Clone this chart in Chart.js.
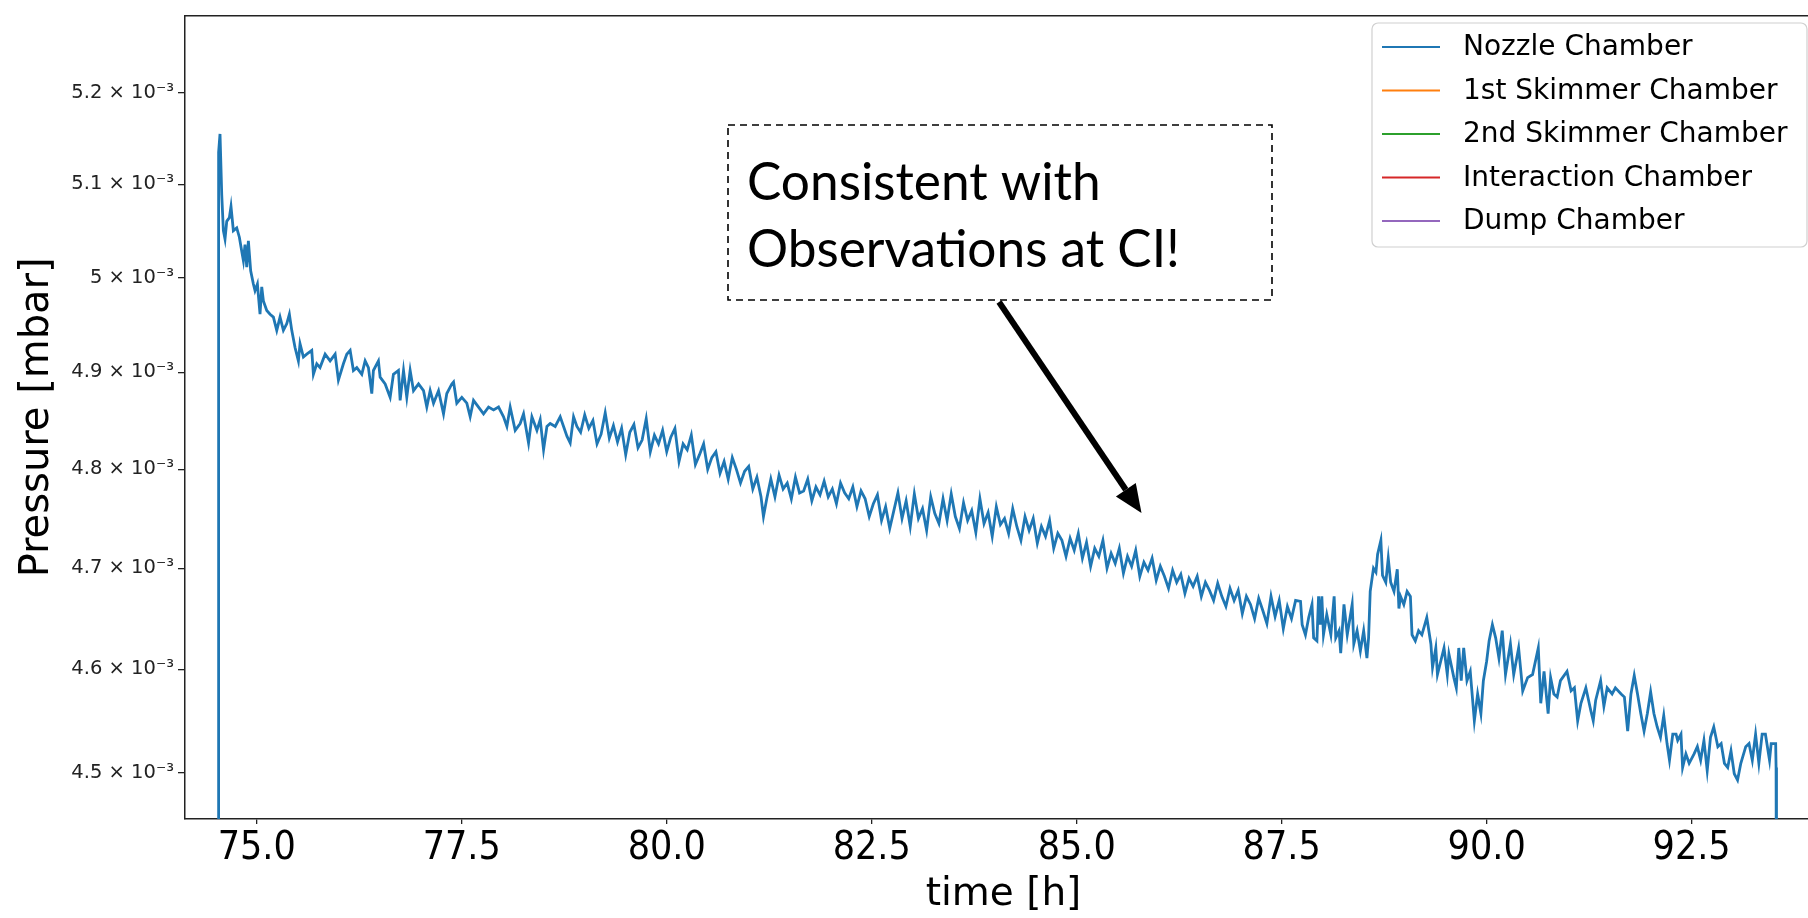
<!DOCTYPE html>
<html>
<head>
<meta charset="utf-8">
<script src="https://cdn.jsdelivr.net/npm/chart.js@4.4.1/dist/chart.umd.min.js"></script>
<style>
  html, body { margin: 0; padding: 0; background: #fff; overflow: hidden; width: 1808px; height: 918px; }
  #wrap { position: relative; width: 1822px; height: 918px; }
</style>
</head>
<body>
<div id="wrap"><canvas id="pressureChart"></canvas></div>
<script>
// time [h] and Nozzle Chamber pressure (in units of 1e-3 mbar)
const timeH = [
  74.53, 74.535, 74.552, 74.573, 74.593, 74.613, 74.634, 74.666, 74.686, 74.715,
  74.756, 74.788, 74.817, 74.837, 74.857, 74.878, 74.898, 74.926, 74.959, 74.979,
  75.008, 75.040, 75.061, 75.081, 75.122, 75.162, 75.203, 75.244, 75.284, 75.325,
  75.366, 75.398, 75.427, 75.467, 75.508, 75.528, 75.569, 75.610, 75.671, 75.691,
  75.732, 75.772, 75.834, 75.895, 75.956, 75.996, 76.057, 76.098, 76.139, 76.179,
  76.220, 76.281, 76.322, 76.362, 76.403, 76.423, 76.484, 76.505, 76.566, 76.627,
  76.667, 76.728, 76.749, 76.790, 76.830, 76.871, 76.912, 76.973, 77.034, 77.074,
  77.115, 77.156, 77.217, 77.278, 77.318, 77.379, 77.400, 77.440, 77.501, 77.562,
  77.603, 77.644, 77.705, 77.766, 77.827, 77.888, 77.949, 78.010, 78.051, 78.091,
  78.152, 78.213, 78.254, 78.315, 78.356, 78.417, 78.457, 78.498, 78.539, 78.579,
  78.640, 78.701, 78.742, 78.783, 78.823, 78.864, 78.905,
  78.95, 79.00, 79.05, 79.10, 79.15, 79.20, 79.25, 79.30, 79.35, 79.40,
  79.45, 79.50, 79.55, 79.60, 79.65, 79.70, 79.75, 79.80, 79.85, 79.90,
  79.95, 80.00, 80.05, 80.10, 80.15, 80.20, 80.25, 80.30, 80.35, 80.40,
  80.45, 80.50, 80.55, 80.60, 80.65, 80.70, 80.75, 80.80, 80.85, 80.90,
  80.95, 81.00, 81.05, 81.10, 81.15, 81.18, 81.22, 81.27, 81.32, 81.37,
  81.42, 81.47, 81.52, 81.57, 81.62, 81.67, 81.72, 81.77, 81.82, 81.87,
  81.92, 81.97, 82.02, 82.07, 82.12, 82.17, 82.22, 82.27, 82.32, 82.37,
  82.42, 82.47, 82.52, 82.57, 82.62, 82.67, 82.72, 82.77, 82.82, 82.87,
  82.92, 82.97, 83.02, 83.07, 83.12, 83.17, 83.22, 83.27, 83.32, 83.37,
  83.42, 83.47, 83.52, 83.57, 83.62, 83.67, 83.72, 83.77, 83.82, 83.87,
  83.92, 83.97, 84.02, 84.07, 84.12, 84.17, 84.22, 84.27, 84.32, 84.37,
  84.42, 84.47, 84.52, 84.57, 84.62, 84.67, 84.72, 84.77, 84.82, 84.87,
  84.92, 84.97, 85.02, 85.07, 85.12, 85.17, 85.22, 85.27, 85.32, 85.37,
  85.42, 85.47, 85.52, 85.57, 85.62, 85.67, 85.72, 85.77, 85.82, 85.87,
  85.92, 85.97, 86.02, 86.07, 86.12, 86.17, 86.22, 86.27, 86.32, 86.37,
  86.42, 86.47, 86.52, 86.57, 86.62, 86.67, 86.72, 86.77, 86.82, 86.87,
  86.92, 86.97, 87.02, 87.07, 87.12, 87.17, 87.22, 87.27, 87.32, 87.37,
  87.42, 87.47, 87.52, 87.57, 87.62, 87.67,
  87.73, 87.75, 87.79, 87.83, 87.87, 87.89, 87.93, 87.95, 87.97, 87.99,
  88.01, 88.05, 88.10, 88.14, 88.16, 88.20, 88.22, 88.26, 88.30, 88.36,
  88.38, 88.42, 88.46, 88.50, 88.54, 88.56, 88.58, 88.62, 88.65, 88.67,
  88.71, 88.73, 88.77, 88.80, 88.83, 88.87, 88.91, 88.93, 88.95, 88.99,
  89.03, 89.07, 89.09, 89.13, 89.17, 89.21, 89.27, 89.32, 89.34, 89.38,
  89.40, 89.44, 89.48, 89.52, 89.54, 89.60, 89.63, 89.66, 89.69, 89.72,
  89.76, 89.80, 89.85, 89.89, 89.93, 89.96, 90.00, 90.03, 90.07, 90.11,
  90.15, 90.19, 90.23, 90.27, 90.29, 90.33, 90.39, 90.44, 90.50, 90.56,
  90.63, 90.66, 90.70, 90.75, 90.78, 90.82, 90.86, 90.90, 90.98, 91.03,
  91.07, 91.11, 91.15, 91.21, 91.27, 91.30, 91.33, 91.39, 91.43, 91.47,
  91.53, 91.57, 91.64, 91.68, 91.72, 91.76, 91.80, 91.84, 91.88, 91.92,
  91.96, 92.00, 92.04, 92.08, 92.12, 92.16, 92.20, 92.23, 92.27, 92.31,
  92.33, 92.37, 92.39, 92.43, 92.47, 92.53, 92.57, 92.61, 92.65, 92.69,
  92.73, 92.77, 92.82, 92.86, 92.90, 92.94, 92.98, 93.02, 93.06, 93.10,
  93.16, 93.20, 93.24, 93.28, 93.32, 93.36, 93.40, 93.45, 93.47, 93.525,
  93.53, 93.535
];
const nozzlePressure = [
  4.300, 5.135, 5.155, 5.089, 5.050, 5.041, 5.060, 5.064, 5.076, 5.050,
  5.053, 5.043, 5.028, 5.018, 5.035, 5.011, 5.039, 5.007, 4.993, 4.986,
  4.993, 4.961, 4.990, 4.975, 4.965, 4.961, 4.958, 4.944, 4.958, 4.944,
  4.951, 4.961, 4.944, 4.926, 4.912, 4.930, 4.916, 4.919, 4.923, 4.898,
  4.909, 4.905, 4.919, 4.912, 4.919, 4.892, 4.909, 4.919, 4.923, 4.902,
  4.905, 4.898, 4.912, 4.905, 4.878, 4.902, 4.912, 4.895, 4.888, 4.874,
  4.898, 4.902, 4.871, 4.902, 4.874, 4.902, 4.881, 4.888, 4.881, 4.864,
  4.881, 4.868, 4.881, 4.857, 4.878, 4.888, 4.890, 4.868, 4.874, 4.868,
  4.854, 4.871, 4.864, 4.857, 4.864, 4.861, 4.864, 4.854, 4.844, 4.864,
  4.840, 4.847, 4.857, 4.827, 4.854, 4.840, 4.851, 4.820, 4.844, 4.847,
  4.844, 4.854, 4.844, 4.834, 4.827, 4.854, 4.844,
  4.838, 4.856, 4.842, 4.850, 4.826, 4.836, 4.858, 4.832, 4.845, 4.828,
  4.842, 4.815, 4.838, 4.846, 4.822, 4.830, 4.852, 4.818, 4.835, 4.826,
  4.840, 4.818, 4.833, 4.842, 4.808, 4.826, 4.820, 4.835, 4.805, 4.815,
  4.826, 4.800, 4.812, 4.818, 4.796, 4.808, 4.790, 4.812, 4.800, 4.786,
  4.798, 4.803, 4.780, 4.792, 4.772, 4.752, 4.770, 4.790, 4.772, 4.794,
  4.780, 4.786, 4.770, 4.792, 4.776, 4.778, 4.790, 4.768, 4.782, 4.774,
  4.788, 4.772, 4.780, 4.765, 4.786, 4.776, 4.770, 4.782, 4.762, 4.778,
  4.770, 4.752, 4.765, 4.774, 4.748, 4.762, 4.740, 4.758, 4.776, 4.750,
  4.768, 4.742, 4.775, 4.750, 4.760, 4.738, 4.772, 4.755, 4.745, 4.770,
  4.748, 4.775, 4.752, 4.740, 4.766, 4.748, 4.758, 4.736, 4.770, 4.745,
  4.756, 4.732, 4.762, 4.744, 4.750, 4.735, 4.760, 4.742, 4.728, 4.752,
  4.738, 4.750, 4.725, 4.742, 4.732, 4.748, 4.720, 4.735, 4.728, 4.712,
  4.730, 4.718, 4.735, 4.710, 4.726, 4.702, 4.720, 4.712, 4.728, 4.700,
  4.715, 4.705, 4.720, 4.695, 4.712, 4.702, 4.718, 4.692, 4.706, 4.698,
  4.710, 4.688, 4.702, 4.692, 4.680, 4.698, 4.686, 4.694, 4.675, 4.690,
  4.682, 4.692, 4.672, 4.686, 4.678, 4.668, 4.685, 4.672, 4.662, 4.680,
  4.668, 4.678, 4.655, 4.672, 4.664, 4.650, 4.670, 4.658, 4.645, 4.672,
  4.652, 4.668, 4.640, 4.662, 4.650, 4.668,
  4.667, 4.644, 4.634, 4.651, 4.664, 4.631, 4.628, 4.672, 4.644, 4.672,
  4.634, 4.654, 4.634, 4.672, 4.631, 4.638, 4.616, 4.664, 4.634, 4.664,
  4.625, 4.638, 4.618, 4.638, 4.611, 4.631, 4.677, 4.700, 4.696, 4.714,
  4.728, 4.693, 4.686, 4.710, 4.686, 4.677, 4.699, 4.660, 4.672, 4.664,
  4.677, 4.672, 4.634, 4.628, 4.638, 4.634, 4.651, 4.625, 4.602, 4.621,
  4.595, 4.608, 4.621, 4.595, 4.615, 4.592, 4.582, 4.621, 4.589, 4.621,
  4.589, 4.598, 4.550, 4.576, 4.557, 4.589, 4.608, 4.628, 4.644, 4.631,
  4.611, 4.638, 4.595, 4.615, 4.625, 4.595, 4.621, 4.579, 4.592, 4.595,
  4.621, 4.567, 4.598, 4.557, 4.592, 4.576, 4.573, 4.589, 4.598, 4.579,
  4.582, 4.550, 4.567, 4.582, 4.560, 4.550, 4.570, 4.589, 4.564, 4.582,
  4.576, 4.582, 4.576, 4.573, 4.540, 4.576, 4.594, 4.576, 4.557, 4.540,
  4.557, 4.578, 4.557, 4.544, 4.534, 4.555, 4.528, 4.512, 4.537, 4.537,
  4.531, 4.537, 4.505, 4.518, 4.509, 4.518, 4.525, 4.512, 4.531, 4.502,
  4.534, 4.544, 4.525, 4.528, 4.509, 4.505, 4.521, 4.499, 4.493, 4.509,
  4.525, 4.528, 4.512, 4.537, 4.509, 4.537, 4.537, 4.512, 4.528, 4.528,
  4.505, 4.300
];
// the other four chambers sit far below this window: nothing of them is visible
const skimmer1Pressure = [];
const skimmer2Pressure = [];
const interactionPressure = [];
const dumpPressure = [];

const seriesNames = ['Nozzle Chamber', '1st Skimmer Chamber', '2nd Skimmer Chamber', 'Interaction Chamber', 'Dump Chamber'];
const seriesColors = ['#1f77b4', '#ff7f0e', '#2ca02c', '#d62728', '#9467bd'];

const xTicks = [75, 77.5, 80, 82.5, 85, 87.5, 90, 92.5];
const xTickLabels = ['75.0', '77.5', '80.0', '82.5', '85.0', '87.5', '90.0', '92.5'];
const yTicks = [4.5, 4.6, 4.7, 4.8, 4.9, 5.0, 5.1, 5.2];
const yTickLabels = ['4.5 × 10⁻³', '4.6 × 10⁻³', '4.7 × 10⁻³', '4.8 × 10⁻³', '4.9 × 10⁻³', '5 × 10⁻³', '5.1 × 10⁻³', '5.2 × 10⁻³'];

const toPoints = (ts, ps) => ps.map((p, i) => ({ x: ts[i], y: p }));
const allSeries = [nozzlePressure, skimmer1Pressure, skimmer2Pressure, interactionPressure, dumpPressure];

// legend box + dashed call-out, drawn on top of the plot
const overlayPlugin = {
    id: 'overlay',
    afterDraw(chart) {
        const { ctx, chartArea: a } = chart;
        ctx.save();

        // top spine
        ctx.strokeStyle = '#222';
        ctx.lineWidth = 1.5;
        ctx.beginPath();
        ctx.moveTo(a.left, a.top);
        ctx.lineTo(a.right, a.top);
        ctx.stroke();

        // legend
        const lx = 1372, ly = 23, lw = 435, lh = 224;
        ctx.fillStyle = 'rgba(255,255,255,0.8)';
        ctx.strokeStyle = '#d0d0d0';
        ctx.lineWidth = 1.2;
        ctx.beginPath();
        ctx.roundRect(lx, ly, lw, lh, 6);
        ctx.fill();
        ctx.stroke();
        ctx.font = '28px "DejaVu Sans"';
        ctx.textBaseline = 'middle';
        chart.data.datasets.forEach((ds, i) => {
            const y = 47 + i * 43.5;
            ctx.strokeStyle = ds.borderColor;
            ctx.lineWidth = 2;
            ctx.beginPath();
            ctx.moveTo(1382, y);
            ctx.lineTo(1440, y);
            ctx.stroke();
            ctx.fillStyle = '#000';
            ctx.fillText(ds.label, 1463, y + 1);
        });

        // dashed call-out box
        ctx.setLineDash([7, 5]);
        ctx.strokeStyle = '#000';
        ctx.lineWidth = 1.6;
        ctx.strokeRect(728, 125, 544, 175);
        ctx.setLineDash([]);

        ctx.font = '100px Lato';
        const size = 100 * 354 / ctx.measureText('Consistent with').width;
        ctx.font = size.toFixed(1) + 'px Lato';
        ctx.textBaseline = 'alphabetic';
        ctx.fillStyle = '#000';
        ctx.fillText('Consistent with', 747, 200);
        ctx.fillText('Observations at CI!', 747, 267);

        // arrow
        const x0 = 999, y0 = 302, x1 = 1141.5, y1 = 513;
        const len = Math.hypot(x1 - x0, y1 - y0);
        const ux = (x1 - x0) / len, uy = (y1 - y0) / len;
        const bx = x1 - 28 * ux, by = y1 - 28 * uy;
        ctx.lineWidth = 6;
        ctx.beginPath();
        ctx.moveTo(x0, y0);
        ctx.lineTo(bx, by);
        ctx.stroke();
        ctx.beginPath();
        ctx.moveTo(x1, y1);
        ctx.lineTo(bx - 12 * uy, by + 12 * ux);
        ctx.lineTo(bx + 12 * uy, by - 12 * ux);
        ctx.closePath();
        ctx.fill();

        ctx.restore();
    }
};

Chart.defaults.font.family = '"DejaVu Sans"';
Chart.defaults.color = '#000';

const ctx = document.getElementById('pressureChart').getContext('2d');
new Chart(ctx, {
    type: 'line',
    data: {
        datasets: seriesNames.map((name, i) => ({
            label: name,
            data: toPoints(timeH, allSeries[i]),
            borderColor: seriesColors[i],
            backgroundColor: seriesColors[i],
            borderWidth: 2.8,
            pointRadius: 0,
            tension: 0,
            fill: false
        }))
    },
    options: {
        responsive: true,
        maintainAspectRatio: false,
        animation: false,
        layout: { padding: { top: 9, right: 0, bottom: 0, left: 0 } },
        plugins: {
            legend: { display: false },
            tooltip: { enabled: false }
        },
        scales: {
            x: {
                type: 'linear',
                min: 74.125,
                max: 94.09,
                afterBuildTicks: s => { s.ticks = xTicks.map(v => ({ value: v })); },
                afterFit: s => { s.height = 99; },
                ticks: {
                    callback: (v) => xTickLabels[xTicks.indexOf(v)],
                    font: { size: 39, family: '"DejaVu Sans Condensed", "DejaVu Sans"' },
                    color: '#000',
                    padding: 1,
                    maxRotation: 0,
                    autoSkip: false
                },
                grid: { drawOnChartArea: false, drawTicks: true, tickLength: 5, color: '#222', lineWidth: 1.3 },
                border: { display: true, color: '#222', width: 1.5 },
                title: { display: true, text: 'time [h]', font: { size: 39 }, color: '#000', padding: { top: 0, bottom: 0 } }
            },
            y: {
                type: 'logarithmic',
                min: 4.4559,
                max: 5.2863,
                afterBuildTicks: s => { s.ticks = yTicks.map(v => ({ value: v })); },
                afterFit: s => { s.width = 185; },
                ticks: {
                    callback: (v) => yTickLabels[yTicks.indexOf(v)],
                    font: { size: 19.5 },
                    color: '#222',
                    padding: 4,
                    autoSkip: false
                },
                grid: { drawOnChartArea: false, drawTicks: true, tickLength: 7, color: '#222', lineWidth: 1.3 },
                border: { display: true, color: '#222', width: 1.5 },
                title: { display: true, text: 'Pressure [mbar]', font: { size: 40 }, color: '#000', padding: { top: 14, bottom: 0 } }
            }
        }
    },
    plugins: [overlayPlugin]
});
</script>
</body>
</html>
